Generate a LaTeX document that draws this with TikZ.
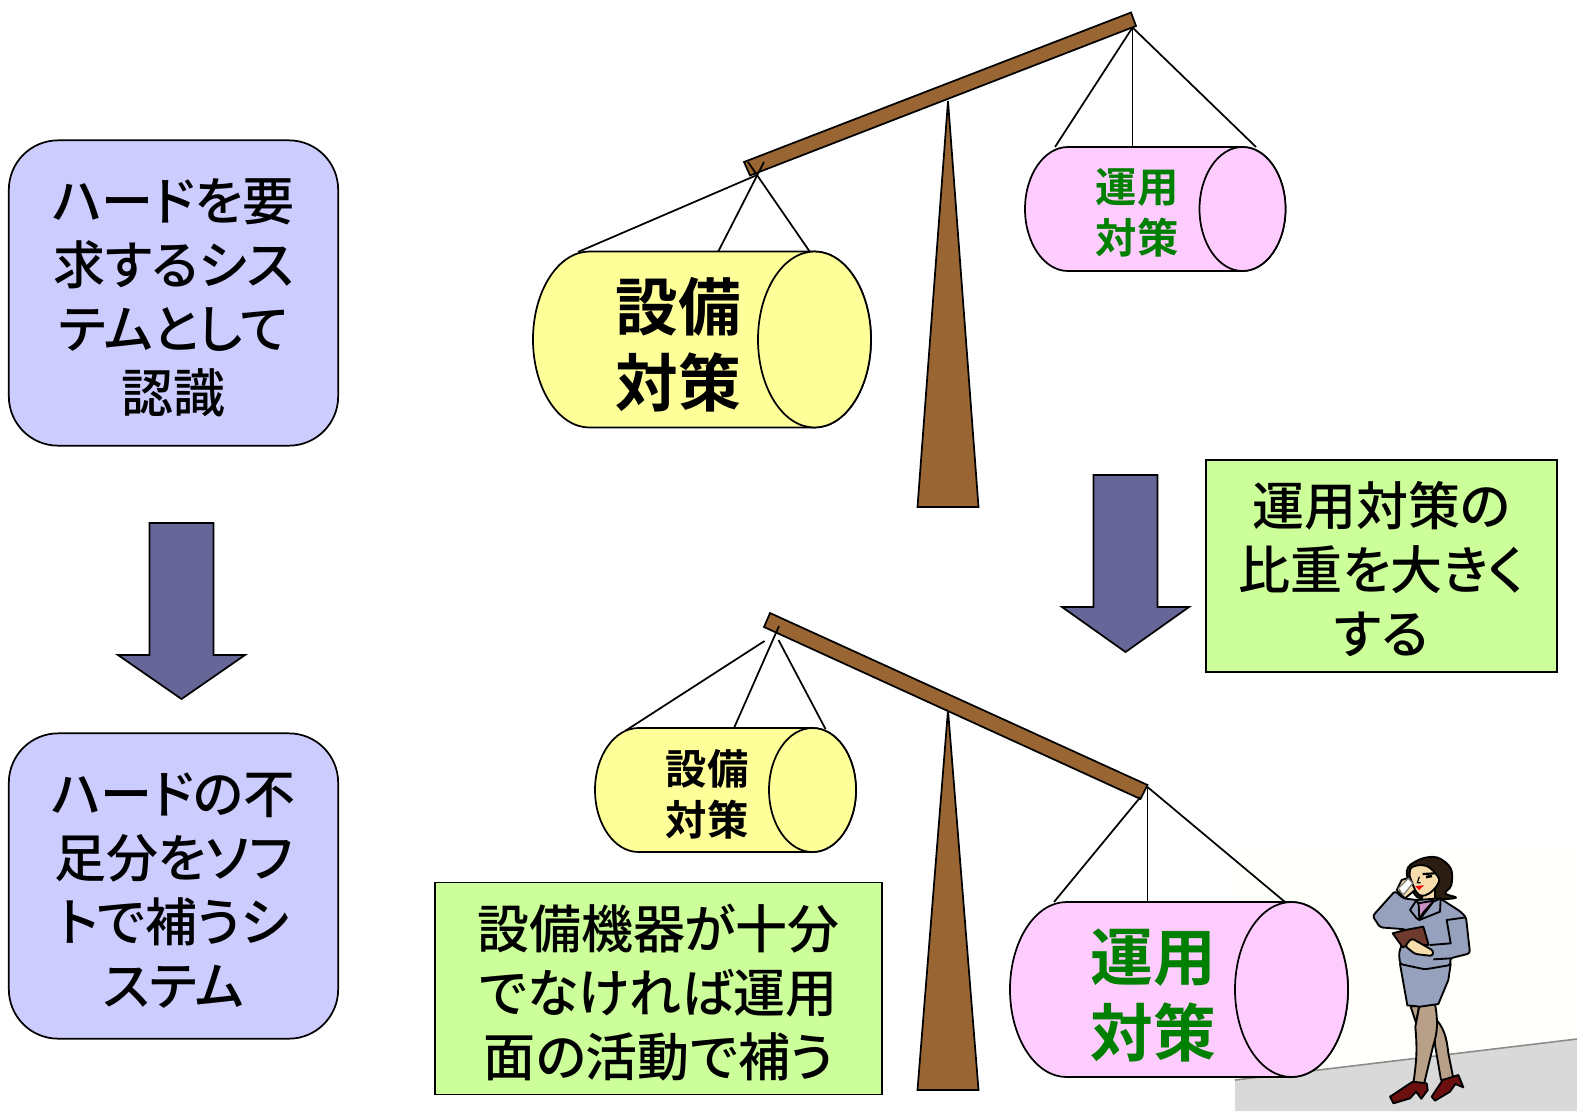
\documentclass[tikz,border=0pt]{standalone}
\usepackage{fontspec}
\setmainfont{Noto Sans CJK JP Medium}[RawFeature=+palt]
\newfontfamily\drumfont{Noto Sans CJK JP Bold}[RawFeature=+palt]
\usetikzlibrary{arrows.meta,positioning}
\definecolor{scnote}{HTML}{CCCCFF}
\definecolor{scarrow}{HTML}{666699}
\definecolor{scgreen}{HTML}{CCFF99}
\definecolor{scbeam}{HTML}{996633}
\definecolor{scyellow}{HTML}{FFFF99}
\definecolor{scpink}{HTML}{FFCCFF}
\definecolor{sctext}{HTML}{008000}
\definecolor{sfsuit}{HTML}{96A2BD}
\definecolor{sfskin}{HTML}{F7DCAC}
\definecolor{sfleg}{HTML}{B8A088}
\definecolor{sfshoe}{HTML}{6B0F0F}
\definecolor{sfbook}{HTML}{6E3A2E}
\definecolor{sfhair}{HTML}{2B1D10}
\definecolor{sfshirt}{HTML}{C88FC0}
\tikzstyle{scline}=[draw=black,line width=1.3pt]
\tikzstyle{scnotebox}=[scline,fill=scnote,rounded corners=37pt,minimum width=247pt,minimum height=229pt,inner sep=0pt]
\tikzstyle{sctipbox}=[scline,fill=scgreen,minimum height=159pt,inner sep=0pt]
\tikzstyle{sccaption}=[align=center,inner sep=0pt,font=\fontsize{39}{48}\selectfont]
\tikzstyle{scwood}=[scline,fill=scbeam,line join=miter]
\tikzstyle{scblock}=[scline,fill=scarrow,line join=miter]
\tikzstyle{scbig}=[align=center,inner sep=0pt,font=\drumfont\fontsize{47}{57}\selectfont]
\tikzstyle{scsmall}=[align=center,inner sep=0pt,font=\drumfont\fontsize{31}{38.5}\selectfont]
\tikzstyle{sfpart}=[draw=black,line width=1.4pt,line join=round]
% barrel lying on its side: style, left cap x, right cap x, mid y, radii
\newcommand{\drumat}[6]{%
  \draw[scline,fill=#1] (#2,#4-#6) arc[start angle=270,end angle=90,x radius=#5,y radius=#6]
    -- (#3,#4+#6) arc[start angle=90,end angle=-90,x radius=#5,y radius=#6] -- cycle;
  \draw[scline,fill=#1] (#3,#4) ellipse[x radius=#5,y radius=#6];
}
\begin{document}
\begin{tikzpicture}[x=0.75pt,y=-0.75pt]
    \useasboundingbox (0,0) rectangle (1577,1111);

    % ---- floor behind the figure ----
    \fill[white!99!yellow] (1235,847) rectangle (1577,1080);
    \fill[black!15] (1235,1080) -- (1577,1039) -- (1577,1111) -- (1235,1111) -- cycle;
    \draw[black!45,line width=1.2pt] (1235,1080) -- (1577,1039);

    % ---- left column ----
    \node[scnotebox] (need) at (173.5,293) {};
    \node[sccaption] (needtext) at (173.5,298) {ハードを要\\求するシス\\テムとして\\認識};
    \node[scnotebox] (soft) at (173.5,886) {};
    \node[sccaption] (softtext) at (173.5,891) {ハードの不\\足分をソフ\\トで補うシ\\ステム};

    % ---- block arrows ----
    \foreach \cx/\ty/\ny/\by in {181.5/523/655/699,1125.5/475/607/652}
      \draw[scblock] (\cx-32,\ty) -- (\cx+32,\ty) -- (\cx+32,\ny) -- (\cx+63.5,\ny)
        -- (\cx,\by) -- (\cx-63.5,\ny) -- (\cx-32,\ny) -- cycle;

    % ---- upper balance ----
    \draw[scwood] (948,101) -- (978.5,507) -- (917.5,507) -- cycle;
    \draw[scwood] (744,162) -- (1131,12.5) -- (1136,26) -- (750,175.5) -- cycle;
    \coordinate (hookul) at (757,175);
    \coordinate (hookur) at (1132.5,27.5);
    \foreach \a/\b in {764/718,748/810}
      \draw[scline] (\a,162) -- (\b,252);
    \draw[scline] (hookul) -- (578,252);
    \foreach \b in {1055,1132.5,1256}
      \draw[scline] (hookur) -- (\b,147);
    \drumat{scyellow}{589.5}{814.5}{339.5}{56.5}{88}
    \drumat{scpink}{1068}{1242.5}{209}{43}{62}
    \node[scbig] (eqbig) at (678,345) {設備\\対策};
    \node[scsmall,text=sctext] (opsmall) at (1137,213) {運用\\対策};

    % ---- lower balance ----
    \draw[scwood] (948,710) -- (978.5,1090) -- (917.5,1090) -- cycle;
    \draw[scwood] (770,613) -- (1147.5,785) -- (1140.5,799) -- (764,627) -- cycle;
    \coordinate (hooklr) at (1147.5,787);
    \draw[scline] (779,626) -- (734,728);
    \draw[scline] (764.5,641) -- (625,731);
    \draw[scline] (778.5,640) -- (825.5,729);
    \draw[scline] (1140.5,797) -- (1054,902);
    \foreach \b in {1147.5,1285}
      \draw[scline] (hooklr) -- (\b,902);
    \drumat{scyellow}{638.5}{812.5}{790}{43.5}{62}
    \drumat{scpink}{1066.5}{1291.5}{989.5}{56.5}{87.5}
    \node[scsmall] (eqsmall) at (707,794) {設備\\対策};
    \node[scbig,text=sctext] (opbig) at (1153,995) {運用\\対策};

    % ---- captions ----
    \node[sctipbox,minimum width=263pt] (tipup) at (1381.5,566) {};
    \node[sccaption] (tipuptext) at (1381.5,569) {運用対策の\\比重を大きく\\する};
    \node[sctipbox,minimum width=335pt] (tiplow) at (658.5,988.5) {};
    \node[sccaption] (tiplowtext) at (658.5,992.5) {設備機器が十分\\でなければ運用\\面の活動で補う};

    % ---- figure on the phone ----
    \begin{scope}[shift={(1220,830)},scale=1/3]
      % legs and shoes
      \draw[sfpart,fill=sfleg] (572,530) -- (598,526) -- (588,578) -- cycle;
      \draw[sfpart,fill=sfleg] (645,565) .. controls (670,590) and (680,620) .. (685,670)
        -- (700,745) -- (663,750) -- (645,645) -- cycle;
      \draw[sfpart,fill=sfleg] (598,528) -- (645,522) .. controls (655,575) and (652,610) .. (640,645)
        -- (612,762) -- (580,760) .. controls (590,690) and (592,660) .. (586,590) -- cycle;
      \draw[sfpart,fill=sfshoe] (510,800) -- (578,755) -- (620,760) -- (623,780) -- (604,806)
        -- (588,785) -- (570,805) -- (520,820) -- cycle;
      \draw[sfpart,fill=sfshoe] (635,800) -- (668,750) -- (715,735) -- (730,772) -- (706,762)
        -- (690,785) -- (645,812) -- cycle;
      % skirt
      \draw[sfpart,fill=sfsuit] (540,402) -- (692,402) -- (685,450) -- (655,522) -- (600,530)
        -- (562,526) -- cycle;
      % hair, neck and face
      \draw[sfpart,fill=sfhair] plot[smooth cycle,tension=0.6] coordinates {(560,125) (595,90) (650,82)
        (692,115) (694,165) (676,190) (708,203) (650,208) (590,200)};
      \draw[sfpart,fill=sfskin] (610,185) -- (645,175) -- (645,215) -- (598,240) -- cycle;
      \draw[sfpart,fill=sfskin] plot[smooth cycle,tension=0.6] coordinates {(575,112) (620,108) (655,142)
        (652,165) (628,190) (602,197) (582,175) (570,145)};
      \fill[red] (585,168) -- (612,166) -- (597,180) -- cycle;
      \draw[line width=1.6pt] (608,132) -- (645,130);
      \draw[line width=2pt] (618,141) -- (636,138);
      \draw[line width=0.9pt] (598,140) -- (592,158) -- (602,158);
      % jacket
      \draw[sfpart,fill=sfsuit,rounded corners=2pt] (458,258) -- (525,183) -- (550,205) -- (590,210)
        -- (660,205) -- (722,245) -- (738,262) -- (750,370) -- (690,385) -- (692,405) -- (615,418)
        -- (540,402) -- (537,370) -- (558,298) -- (480,292) -- cycle;
      \draw[sfpart,fill=sfshirt] (593,220) -- (642,212) -- (612,245) -- (598,265) -- cycle;
      \draw[sfpart,fill=sfsuit] (590,210) -- (570,240) -- (590,265) -- (598,270) -- (596,225) -- cycle;
      \draw[sfpart,fill=sfsuit] (662,205) -- (640,215) -- (598,270) -- (660,245) -- cycle;
      \draw[sfpart] (738,262) -- (680,270) -- (692,340) -- (630,345);
      \draw[sfpart] (692,385) -- (640,388);
      % phone and raised hand
      \draw[sfpart,fill=sfskin] (530,180) -- (545,150) -- (570,142) -- (585,180) -- (555,205) -- cycle;
      \draw[draw=black!50,line width=1pt,fill=white] (535,175) -- (565,145) -- (578,160) -- (550,195) -- cycle;
      % organiser and lower hand
      \draw[sfpart,fill=sfbook] (518,310) -- (555,300) -- (610,290) -- (626,345) -- (565,345)
        -- (548,352) -- cycle;
      \draw[sfpart,fill=sfskin,rounded corners=2pt] (555,348) -- (575,325) -- (605,342) -- (640,362)
        -- (638,378) -- (585,372) -- cycle;
    \end{scope}
  \end{tikzpicture}
\end{document}
